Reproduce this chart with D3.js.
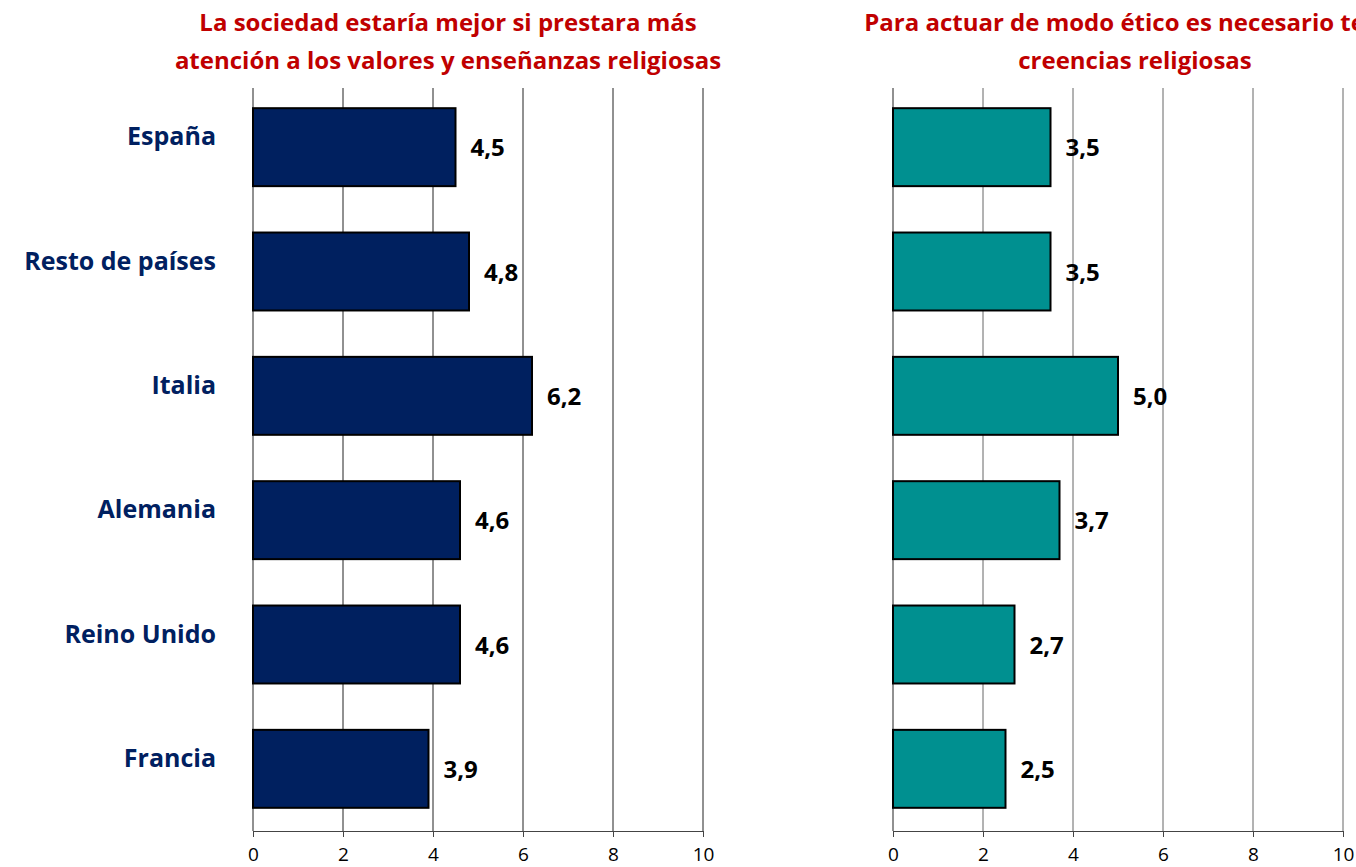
<!DOCTYPE html>
<html>
<head>
<meta charset="utf-8">
<script src="https://d3js.org/d3.v7.min.js"></script>
<style>
  body { margin: 0; background: #fff; }
  svg { display: block; font-family: "Open Sans", sans-serif; }
</style>
</head>
<body>
<svg width="1356" height="867"></svg>
<script>
// categories and values
var countries = ["España", "Resto de países", "Italia", "Alemania", "Reino Unido", "Francia"];
var sociedadValues = [4.5, 4.8, 6.2, 4.6, 4.6, 3.9];
var eticoValues = [3.5, 3.5, 5.0, 3.7, 2.7, 2.5];
var tickValues = [0, 2, 4, 6, 8, 10];
var sociedadTitle = ["La sociedad estaría mejor si prestara más", "atención a los valores y enseñanzas religiosas"];
var eticoTitle = ["Para actuar de modo ético es necesario tener", "creencias religiosas"];

var svg = d3.select("svg");
var fmt = function(d) { return d3.format(".1f")(d).replace(".", ","); };

var y = d3.scaleBand()
    .domain(countries)
    .range([85, 831])
    .paddingInner(0.373)
    .paddingOuter(0.1865);

function panel(x0, titleX, values, title, fill, gridColor, showNames) {
  var x = d3.scaleLinear().domain([0, 10]).range([x0, x0 + 450]);
  var g = svg.append("g");

  // vertical gridlines
  g.selectAll(".grid")
    .data(tickValues)
    .enter().append("line")
      .attr("x1", function(d) { return x(d); })
      .attr("x2", function(d) { return x(d); })
      .attr("y1", 88)
      .attr("y2", 831)
      .attr("stroke", function(d) { return d === 0 ? "#222" : gridColor; })
      .attr("stroke-width", 1);

  var xAxis = d3.axisBottom(x)
      .tickValues(tickValues)
      .tickSize(6)
      .tickSizeOuter(0)
      .tickFormat(d3.format("d"));

  var ax = g.append("g")
      .attr("transform", "translate(0,831)")
      .call(xAxis);
  ax.select(".domain").attr("stroke", "#444");
  ax.selectAll(".tick line").attr("stroke", "#444");
  ax.selectAll(".tick text")
      .attr("y", 17)
      .attr("fill", "#000")
      .style("font-family", "'Open Sans', sans-serif")
      .style("font-size", "19px");

  g.selectAll(".bar")
    .data(values)
    .enter().append("rect")
      .attr("x", x(0))
      .attr("y", function(d, i) { return y(countries[i]); })
      .attr("width", function(d) { return x(d) - x(0); })
      .attr("height", y.bandwidth())
      .attr("fill", fill)
      .attr("stroke", "#000")
      .attr("stroke-width", 2);

  g.selectAll(".val")
    .data(values)
    .enter().append("text")
      .attr("x", function(d) { return x(d) + 15; })
      .attr("y", function(d, i) { return y(countries[i]) + y.bandwidth() / 2 + 9; })
      .attr("font-size", "24px")
      .attr("font-weight", "bold")
      .attr("fill", "#000")
      .text(fmt);

  if (showNames) {
    g.selectAll(".name")
      .data(countries)
      .enter().append("text")
        .attr("x", x0 - 37)
        .attr("y", function(d) { return y(d) + y.bandwidth() / 2 - 2; })
        .attr("text-anchor", "end")
        .attr("font-size", "25px")
        .attr("font-weight", "bold")
        .attr("fill", "#002060")
        .text(function(d) { return d; });
  }

  g.selectAll(".title")
    .data(title)
    .enter().append("text")
      .attr("x", titleX)
      .attr("y", function(d, i) { return 31 + i * 38; })
      .attr("text-anchor", "middle")
      .attr("font-size", "24px")
      .attr("font-weight", "bold")
      .attr("fill", "#c00000")
      .text(function(d) { return d; });
}

panel(253, 448, sociedadValues, sociedadTitle, "#00205f", "#222", true);
panel(893, 1135, eticoValues, eticoTitle, "#009090", "#666", false);
</script>
</body>
</html>
